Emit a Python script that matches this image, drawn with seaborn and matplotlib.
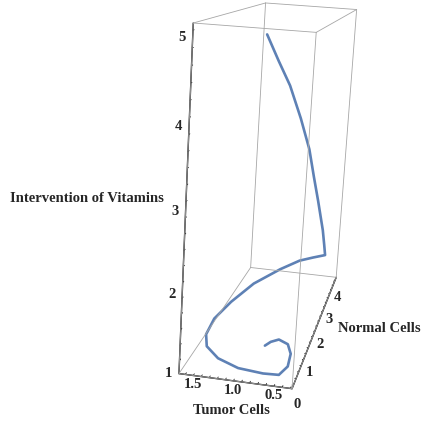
import numpy as np
import pandas as pd
import seaborn as sns
import matplotlib
matplotlib.use("Agg")
import matplotlib.pyplot as plt
from matplotlib.ticker import FixedLocator, FuncFormatter

# ---- data ----
tumor = [0.86, 0.80, 0.74, 0.66, 0.59, 0.55, 0.51, 0.475, 0.47, 0.47,
         0.65, 0.84, 1.08, 1.36, 1.53, 1.62, 1.60, 1.50, 1.28, 0.98,
         0.66, 0.47, 0.41, 0.44, 0.53, 0.67, 0.76, 0.81]
normal = [0.07, 0.59, 1.19, 1.75, 2.27, 2.65, 3.00, 3.56, 3.85, 4.07,
          4.00, 3.86, 3.48, 2.83, 2.07, 1.44, 0.91, 0.55, 0.25, 0.05,
          0.00, 0.03, 0.32, 0.72, 1.03, 1.15, 1.05, 0.90]
vitamins = [5.00, 4.65, 4.28, 3.78, 3.27, 2.80, 2.37, 1.77, 1.45, 1.22,
            1.18, 1.15, 1.10, 1.05, 1.01, 0.98, 0.96, 0.95, 0.94, 0.935,
            0.93, 0.925, 0.92, 0.92, 0.915, 0.915, 0.91, 0.91]

tumor_ticks = [0.3, 0.4, 0.5, 0.6, 0.7, 0.8, 0.9, 1.0, 1.1, 1.2, 1.3, 1.4, 1.5, 1.6]
tumor_labels = {0.5: "0.5", 1.0: "1.0", 1.5: "1.5"}
normal_ticks = [0.0, 0.2, 0.4, 0.6, 0.8, 1.0, 1.2, 1.4, 1.6, 1.8, 2.0, 2.2, 2.4,
                2.6, 2.8, 3.0, 3.2, 3.4, 3.6, 3.8, 4.0]
normal_labels = {0.0: "0", 1.0: "1", 2.0: "2", 3.0: "3", 4.0: "4"}
vit_ticks = [1.0, 1.2, 1.4, 1.6, 1.8, 2.0, 2.2, 2.4, 2.6, 2.8, 3.0, 3.2, 3.4,
             3.6, 3.8, 4.0, 4.2, 4.4, 4.6, 4.8, 5.0]
vit_labels = {1.0: "1", 2.0: "2", 3.0: "3", 4.0: "4", 5.0: "5"}

tumor_lim = (1.68, 0.28)
normal_lim = (-0.1, 4.2)
vit_lim = (0.83, 5.08)

df = pd.DataFrame({"Tumor Cells": tumor, "Normal Cells": normal,
                   "Intervention of Vitamins": vitamins})

# ---- style ----
sns.set_style("white")
plt.rcParams['font.family'] = ['Liberation Serif', 'DejaVu Serif']
plt.rcParams['font.weight'] = 'bold'
plt.rcParams['font.size'] = 10.5

fig = plt.figure(figsize=(4.21, 4.22), dpi=100)
ax = fig.add_axes([61 / 421, 33 / 422, 1.0, 1.0], projection='3d')
ax.set_proj_type('persp', focal_length=0.45)
ax.view_init(elev=13, azim=-80.5, roll=-3.5)
ax.set_box_aspect((1.4, 4.3, 4.25), zoom=1.05)

ax.plot(df["Tumor Cells"], df["Normal Cells"], df["Intervention of Vitamins"],
        color="#5E81B5", lw=1.9, solid_capstyle="round", solid_joinstyle="round")

ax.set_xlim(*tumor_lim)
ax.set_ylim(*normal_lim)
ax.set_zlim(*vit_lim)

# box edges
xs, ys, zs = tumor_lim, normal_lim, vit_lim
for a in xs:
    for b in ys:
        ax.plot([a, a], [b, b], list(zs), color="0.65", lw=0.6)
for a in xs:
    for c in zs:
        ax.plot([a, a], list(ys), [c, c], color="0.65", lw=0.6)
for b in ys:
    for c in zs:
        ax.plot(list(xs), [b, b], [c, c], color="0.65", lw=0.6)

def fmt(labels):
    return FuncFormatter(lambda v, p: next((s for k, s in labels.items() if abs(k - v) < 1e-6), ""))

ax.xaxis.set_major_locator(FixedLocator(tumor_ticks))
ax.xaxis.set_major_formatter(fmt(tumor_labels))
ax.yaxis.set_major_locator(FixedLocator(normal_ticks))
ax.yaxis.set_major_formatter(fmt(normal_labels))
ax.zaxis.set_major_locator(FixedLocator(vit_ticks))
ax.zaxis.set_major_formatter(fmt(vit_labels))
ax.zaxis.set_ticks_position('lower')

for axis in (ax.xaxis, ax.yaxis, ax.zaxis):
    axis.set_pane_color((1, 1, 1, 0))
    axis.line.set_color("black")
    axis.line.set_linewidth(1.0)
    axis._axinfo['tick']['inward_factor'] = 0.0
    axis._axinfo['tick']['outward_factor'] = 0.15
    axis._axinfo['tick']['color'] = "black"
    axis._axinfo['tick']['linewidth'] = {True: 0.6, False: 0.6}
ax.grid(False)
ax.tick_params(axis='both', labelsize=10.5, pad=0)
ax.tick_params(axis='x', pad=-7)
ax.tick_params(axis='y', pad=-2)

fig.text(10 / 421, 1 - 199 / 422, "Intervention of Vitamins", ha="left", va="center",
         fontsize=10.5, fontweight="bold")
fig.text(231 / 421, 1 - 411 / 422, "Tumor Cells", ha="center", va="center",
         fontsize=10.5, fontweight="bold")
fig.text(338 / 421, 1 - 328 / 422, "Normal Cells", ha="left", va="center",
         fontsize=10.5, fontweight="bold")

fig.savefig("out.png", dpi=100)
